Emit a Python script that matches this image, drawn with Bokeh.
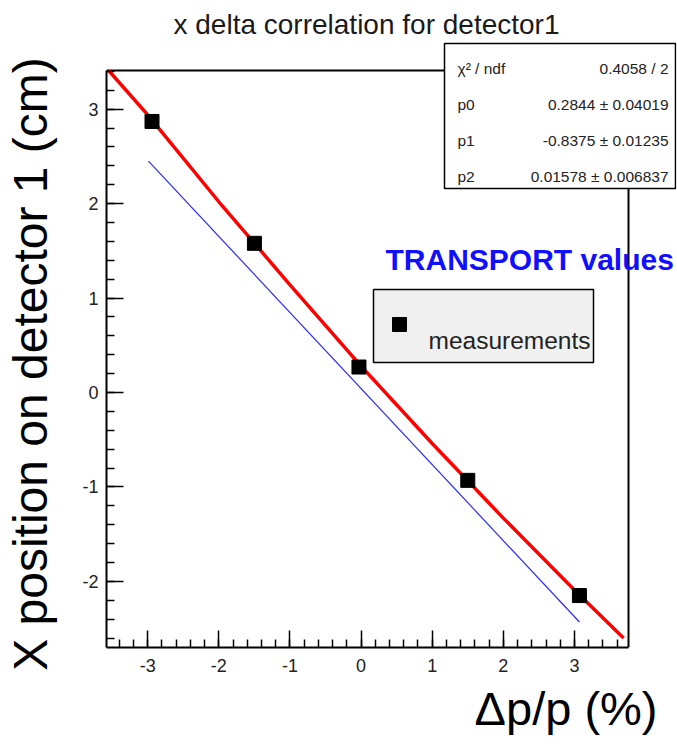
import math
from bokeh.plotting import figure
from bokeh.models import Range1d, Label, SingleIntervalTicker, PrintfTickFormatter, Title
from bokeh.core.properties import value
from bokeh.embed import file_html
from bokeh.resources import INLINE

# ---------------- data ----------------
x_meas = [-2.94, -1.50, -0.03, 1.50, 3.07]
y_meas = [2.87, 1.58, 0.27, -0.93, -2.15]

# fitted curve (red)
x_fit = [-3.55, -3.0, -2.0, -1.0, 0.0, 1.0, 2.0, 3.0, 3.69]
y_fit = [3.41, 2.94, 2.02, 1.14, 0.28, -0.54, -1.33, -2.09, -2.60]

# TRANSPORT prediction (blue)
x_tr = [-2.99, 3.07]
y_tr = [2.45, -2.43]

stat_names = ["χ² / ndf", "p0", "p1", "p2"]
stat_values = ["0.4058 / 2", "0.2844 ± 0.04019", "-0.8375 ± 0.01235", "0.01578 ± 0.006837"]

title_text = "x delta correlation for detector1"
x_title = "Δp/p (%)"
y_title = "X position on detector 1 (cm)"
legend_text = "measurements"
transport_text = "TRANSPORT values"

# axis ranges of the drawn plot frame
X_LO, X_HI = -3.58, 3.76
Y_LO, Y_HI = -2.70, 3.41

# ---------------- geometry (canvas pixels) ----------------
PX_L, PX_R, PX_T, PX_B = 106, 628, 70, 647
EXT_R, EXT_T = 676, 40
FONT = "Liberation Sans"
NBSP = "\u00a0"


def dx(px):
    return X_LO + (px - PX_L) * (X_HI - X_LO) / (PX_R - PX_L)


def dy(py):
    return Y_LO + (PX_B - py) * (Y_HI - Y_LO) / (PX_B - PX_T)


W, H = 677, 745
p = figure(width=W, height=H,
           x_range=Range1d(X_LO, dx(EXT_R)), y_range=Range1d(Y_LO, dy(EXT_T)),
           min_border_left=PX_L, min_border_right=W - EXT_R,
           min_border_top=EXT_T, min_border_bottom=H - PX_B,
           output_backend="svg", toolbar_location=None)
p.outline_line_color = None
p.background_fill_color = "white"
p.border_fill_color = "white"
p.grid.visible = False

p.title.text = title_text
p.title.align = "left"
p.title.offset = 67
p.title.text_font = FONT
p.title.text_font_size = "28px"
p.title.text_font_style = "normal"
p.title.text_color = "#1a1a1a"
p.title.standoff = 2

for ax, lo, hi in ((p.xaxis[0], X_LO, X_HI), (p.yaxis[0], Y_LO, Y_HI)):
    ax.ticker = SingleIntervalTicker(interval=1, num_minor_ticks=5)
    ax.formatter = PrintfTickFormatter(format="%d")
    ax.bounds = (lo, hi)
    ax.axis_line_color = "black"
    ax.axis_line_width = 2
    ax.major_tick_line_color = "black"
    ax.major_tick_line_width = 1.5
    ax.minor_tick_line_color = "black"
    ax.minor_tick_line_width = 1.5
    ax.major_tick_in = 17
    ax.major_tick_out = 0
    ax.minor_tick_in = 8
    ax.minor_tick_out = 0
    ax.major_label_text_font = FONT
    ax.major_label_text_font_size = "18px"
    ax.major_label_text_color = "#222222"
p.xaxis.major_label_standoff = 11
p.yaxis.major_label_standoff = 8

p.yaxis.axis_label = y_title + NBSP * 3
p.yaxis.axis_label_text_font = FONT
p.yaxis.axis_label_text_font_size = "48px"
p.yaxis.axis_label_text_font_style = "normal"
p.yaxis.axis_label_text_color = "black"
p.yaxis.axis_label_standoff = 22

p.add_layout(Title(text=x_title, align="right", offset=19, text_font=FONT,
                   text_font_size="47px", text_font_style="normal",
                   text_color="black", standoff=10), "below")

# top and right edges of the plot frame
p.line(x=[X_LO, X_HI, X_HI], y=[Y_HI, Y_HI, Y_LO], line_color="black", line_width=2)

# TRANSPORT line
p.line(x=x_tr, y=y_tr, line_color="#2a2aff", line_width=1.2)
# fit curve
p.line(x=x_fit, y=y_fit, line_color="#ff0000", line_width=3.5)
# measurements
p.scatter(x=x_meas, y=y_meas, marker="square", size=14, fill_color="black", line_color="black")

# stats box
p.quad(left=dx(444), right=dx(675), top=dy(43), bottom=dy(188),
       fill_color="white", line_color="black", line_width=1.5)
row_base = [68, 104, 140, 176]
p.text(x=[dx(457)] * 4, y=[dy(b) for b in row_base], text=stat_names,
       text_font=value(FONT), text_font_size="15.5px", text_color="#222222",
       text_align="left", text_baseline="alphabetic")
p.text(x=[dx(668)] * 4, y=[dy(b) for b in row_base], text=stat_values,
       text_font=value(FONT), text_font_size="15.5px", text_color="#222222",
       text_align="right", text_baseline="alphabetic")

# legend
p.quad(left=dx(373), right=dx(593), top=dy(289), bottom=dy(362),
       fill_color="#f0f0f0", line_color="black", line_width=1.5)
p.scatter(x=[dx(399)], y=[dy(324)], marker="square", size=14, fill_color="black", line_color="black")
p.add_layout(Label(x=dx(428), y=dy(340), text=legend_text, text_font=FONT,
                   text_font_size="24.5px", text_color="#222222",
                   text_align="left", text_baseline="alphabetic"))

# TRANSPORT values text
p.add_layout(Label(x=dx(385), y=dy(259), text=transport_text, text_font=FONT,
                   text_font_size="30px", text_font_style="bold", text_color="#1010ff",
                   text_align="left", text_baseline="alphabetic"))

open("out.html", "w").write(file_html(p, INLINE))
